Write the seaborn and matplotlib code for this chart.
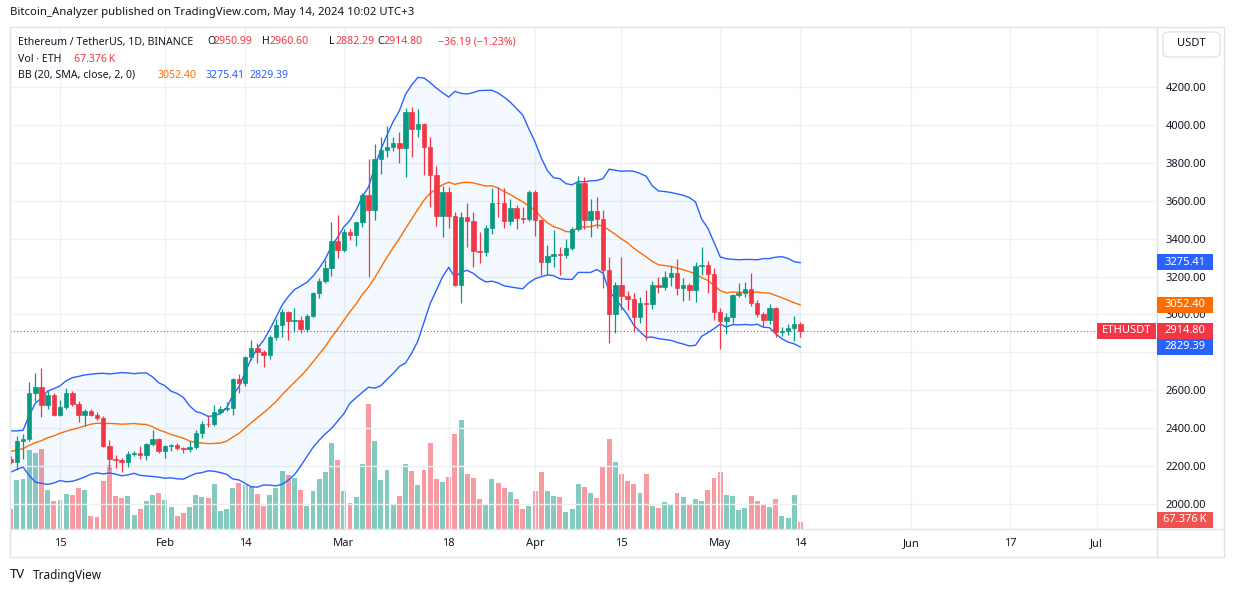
import numpy as np
import pandas as pd
import matplotlib
matplotlib.use("Agg")
import matplotlib.pyplot as plt
import matplotlib.dates as mdates
import matplotlib.transforms as mtransforms
from matplotlib.patches import Rectangle, FancyBboxPatch
from matplotlib.lines import Line2D
import seaborn as sns

# ---------------- data ----------------
dates = pd.date_range("2024-01-07", "2024-05-14", freq="D")
prior_dates = pd.date_range("2023-12-19", "2024-01-06", freq="D")
prior_closes = [2178, 2201, 2239, 2326, 2313, 2268, 2273, 2230, 2378, 2345,
                2298, 2292, 2281, 2352, 2355, 2209, 2268, 2268, 2240]

opens = [
    # Jan 7-31
    2240, 2222, 2331, 2344, 2585, 2619, 2522, 2576, 2472, 2511, 2587, 2529, 2469,
    2493, 2471, 2455, 2306, 2237, 2233, 2220, 2266, 2268, 2257, 2318, 2344,
    # Feb
    2282, 2304, 2309, 2296, 2290, 2300, 2373, 2423, 2420, 2485, 2500, 2507, 2659,
    2640, 2777, 2824, 2803, 2786, 2881, 2944, 3013, 2967, 2971, 2922, 2992, 3113,
    3178, 3243, 3385,
    # Mar
    3340, 3433, 3420, 3488, 3628, 3553, 3818, 3868, 3884, 3905, 3880, 4066, 3980,
    4005, 3882, 3738, 3521, 3645, 3517, 3155, 3516, 3492, 3333, 3329, 3456, 3588,
    3586, 3493, 3561, 3510, 3506,
    # Apr
    3646, 3500, 3275, 3308, 3320, 3316, 3349, 3450, 3696, 3500, 3546, 3502, 3234,
    3000, 3156, 3100, 3080, 2985, 3062, 3056, 3155, 3147, 3200, 3218, 3137, 3155,
    3127, 3256, 3263, 3212,
    # May 1-14
    3012, 2968, 2986, 3103, 3113, 3133, 3060, 3003, 2970, 3032, 2906, 2914, 2929, 2950.99]

highs = [
    2255, 2358, 2368, 2643, 2690, 2715, 2595, 2585, 2550, 2611, 2595, 2545, 2500,
    2500, 2485, 2465, 2337, 2258, 2245, 2282, 2282, 2306, 2320, 2390, 2350,
    2310, 2318, 2320, 2300, 2330, 2390, 2440, 2462, 2520, 2515, 2540, 2665, 2686,
    2780, 2865, 2849, 2810, 2890, 2975, 3027, 3020, 3032, 2992, 3005, 3120, 3194,
    3287, 3487, 3525,
    3450, 3450, 3490, 3640, 3822, 3899, 3935, 3994, 3935, 3965, 4088, 4094, 4083,
    4012, 3935, 3783, 3678, 3670, 3542, 3540, 3586, 3539, 3434, 3472, 3667, 3675,
    3667, 3609, 3578, 3569, 3657,
    3657, 3505, 3366, 3445, 3357, 3397, 3463, 3730, 3724, 3608, 3622, 3551, 3305,
    3173, 3305, 3124, 3115, 3094, 3129, 3178, 3196, 3231, 3256, 3291, 3190, 3168,
    3278, 3354, 3284, 3243,
    3032, 3009, 3110, 3168, 3173, 3221, 3075, 3015, 3055, 3040, 2932, 2950, 2992, 2960.60]

lows = [
    2212, 2180, 2240, 2330, 2546, 2460, 2500, 2465, 2466, 2500, 2515, 2432, 2413,
    2462, 2445, 2300, 2180, 2190, 2171, 2194, 2255, 2240, 2232, 2305, 2271,
    2243, 2278, 2285, 2270, 2275, 2292, 2350, 2405, 2410, 2475, 2490, 2470, 2587,
    2625, 2760, 2744, 2721, 2764, 2863, 2880, 2865, 2909, 2904, 2905, 2985, 3086,
    3165, 3205, 3296,
    3330, 3395, 3361, 3460, 3200, 3498, 3739, 3830, 3860, 3797, 3727, 3832, 3935,
    3736, 3569, 3469, 3410, 3455, 3150, 3059, 3357, 3252, 3270, 3310, 3423, 3516,
    3455, 3472, 3449, 3481, 3495,
    3414, 3208, 3208, 3249, 3208, 3300, 3340, 3440, 3450, 3410, 3455, 3138, 2851,
    2904, 3024, 3024, 2909, 2953, 2865, 3030, 3115, 3129, 3150, 3103, 3073, 3076,
    3068, 3208, 3115, 2971,
    2817, 2897, 2957, 3090, 3090, 3045, 2985, 2936, 2950, 2880, 2887, 2892, 2862, 2882.29]

closes = [
    2222, 2331, 2344, 2585, 2619, 2522, 2576, 2472, 2511, 2587, 2529, 2469, 2493,
    2471, 2455, 2306, 2237, 2233, 2220, 2266, 2268, 2257, 2318, 2344, 2282,
    2304, 2309, 2296, 2290, 2300, 2373, 2423, 2420, 2485, 2500, 2507, 2659, 2640,
    2777, 2824, 2803, 2786, 2881, 2944, 3013, 2967, 2971, 2922, 2992, 3113, 3178,
    3243, 3385, 3340,
    3433, 3420, 3488, 3628, 3553, 3818, 3868, 3884, 3905, 3880, 4066, 3980, 4005,
    3882, 3738, 3521, 3645, 3517, 3155, 3516, 3492, 3333, 3329, 3456, 3588, 3586,
    3493, 3561, 3510, 3506, 3646,
    3500, 3275, 3308, 3320, 3316, 3349, 3450, 3696, 3500, 3546, 3502, 3234, 3000,
    3156, 3100, 3080, 2985, 3062, 3056, 3155, 3147, 3200, 3218, 3137, 3155, 3127,
    3256, 3263, 3212, 3012,
    2968, 2986, 3103, 3113, 3133, 3060, 3003, 2970, 3032, 2906, 2914, 2929, 2951, 2914.80]

volumes_k = [
    185, 445, 452, 716, 691, 725, 356, 259, 266, 320, 311, 371, 356,
    122, 113, 437, 581, 302, 286, 302, 131, 185, 257, 311, 329,
    268, 205, 122, 149, 203, 311, 293, 284, 410, 167, 182, 374, 419,
    401, 394, 320, 212, 311, 376, 529, 491, 464, 356, 212, 347, 455,
    518, 779, 626,
    347, 239, 293, 590, 1130, 797, 446, 536, 221, 302, 590, 527, 401,
    536, 779, 455, 428, 473, 860, 986, 500, 464, 275, 221, 455, 419,
    374, 338, 275, 185, 212,
    347, 518, 347, 302, 293, 158, 185, 410, 383, 329, 284, 572, 815,
    608, 500, 437, 410, 329, 500, 212, 194, 248, 221, 329, 293, 221,
    275, 257, 356, 464,
    518, 311, 302, 176, 194, 302, 257, 230, 203, 275, 122, 104, 311, 67.376]

tick_dates = ["2024-01-15", "2024-02-01", "2024-02-14", "2024-03-01", "2024-03-18",
              "2024-04-01", "2024-04-15", "2024-05-01", "2024-05-14", "2024-06-01",
              "2024-06-17", "2024-07-01"]
tick_labels = ["15", "Feb", "14", "Mar", "18", "Apr", "15", "May", "14", "Jun", "17", "Jul"]
price_ticks = [2000, 2200, 2400, 2600, 2800, 3000, 3200, 3400, 3600, 3800, 4000, 4200]
hidden_ticks = [2800]   # covered by the price tags in the reference

header = "Bitcoin_Analyzer published on TradingView.com, May 14, 2024 10:02 UTC+3"
ohlc_text = ["2950.99", "2960.60", "2882.29", "2914.80", "\u221236.19 (\u22121.23%)"]
vol_text = "67.376\u2009K"
bb_text = ["3052.40", "3275.41", "2829.39"]
bb_vals = [3052.40, 3275.41, 2829.39]
last_close = 2914.80
last_vol = 67.376

# ---------------- style ----------------
sns.set_theme(style="white")
plt.rcParams["font.family"] = ["Noto Sans", "DejaVu Sans"]
UP, DOWN = "#089981", "#f23645"
BLUE, ORANGE = "#2962ff", "#ff6d00"
TXT = "#131722"
GRID = "#eef0f4"
BORDER = "#e0e3eb"

W, H = 1233, 592
L, R, T, B = 10, 1157, 27, 529.3
fig = plt.figure(figsize=(W / 100, H / 100), dpi=100)
fig.patch.set_facecolor("white")
rect = [L / W, 1 - B / H, (R - L) / W, (B - T) / H]
axv = fig.add_axes(rect)             # volume (behind)
ax = fig.add_axes(rect, sharex=axv)  # price (front)
ax.patch.set_visible(False)

x = mdates.date2num(dates)
o = np.array(opens); h = np.array(highs); l = np.array(lows); c = np.array(closes)
up = c >= o
cols = np.where(up, UP, DOWN)

# Bollinger bands (20, SMA, close, 2)
all_close = pd.Series(prior_closes + closes, index=prior_dates.append(dates), dtype=float)
basis = all_close.rolling(20).mean()
dev = all_close.rolling(20).std(ddof=0)
bb = pd.DataFrame({"date": dates,
                   "basis": basis.loc[dates].values,
                   "upper": (basis + 2 * dev).loc[dates].values,
                   "lower": (basis - 2 * dev).loc[dates].values})

ax.fill_between(x, bb["lower"], bb["upper"], color="#2196f3", alpha=0.05, lw=0, zorder=1)
sns.lineplot(x=x, y=bb["upper"].values, ax=ax, color=BLUE, lw=1.0, zorder=2)
sns.lineplot(x=x, y=bb["lower"].values, ax=ax, color=BLUE, lw=1.0, zorder=2)
sns.lineplot(x=x, y=bb["basis"].values, ax=ax, color=ORANGE, lw=1.0, zorder=2)

# candles
ax.vlines(x, l, h, colors=cols, lw=0.9, zorder=3)
ax.bar(x, c - o, bottom=o, width=0.72, color=cols, edgecolor=cols, lw=0.5, zorder=4)

# volume
axv.bar(x, volumes_k, width=0.8, color=cols, alpha=0.5, lw=0)

ax.axhline(last_close, color=DOWN, ls=(0, (1, 2)), lw=0.8, zorder=5)

# limits
px_day = 6.17
x15 = mdates.date2num(pd.Timestamp("2024-01-15"))
ax.set_xlim(x15 - (60 - L) / px_day, x15 + (R - 60) / px_day)
ppx = 2200 / 417.0
ax.set_ylim(4200 - (B - 87) * ppx, 4200 + (87 - T) * ppx)
axv.set_ylim(0, 9.0 * (B - T))

# ticks / grid
ax.set_xticks(mdates.date2num(pd.to_datetime(tick_dates)))
ax.set_xticklabels(tick_labels)
ax.set_yticks(price_ticks)
ax.set_yticklabels(["" if v in hidden_ticks else f"{v:.2f}" for v in price_ticks])
ax.yaxis.tick_right()
ax.tick_params(axis="x", length=0, pad=6, labelsize=8, colors=TXT)
ax.tick_params(axis="y", length=0, pad=6, labelsize=8, colors=TXT)
ax.grid(True, color=GRID, lw=1)
ax.set_axisbelow(True)
axv.set_yticks([]); axv.tick_params(axis="x", length=0, labelbottom=False)
axv.grid(False)
for a in (ax, axv):
    for s in a.spines.values():
        s.set_visible(False)
ax.set_xlabel(""); ax.set_ylabel("")

# frame lines
def fline(x0, y0, x1, y1):
    fig.add_artist(Line2D([x0 / W, x1 / W], [1 - y0 / H, 1 - y1 / H], color=BORDER, lw=1))
fline(L, T, 1224, T); fline(L, 557, 1224, 557); fline(L, T, L, 557); fline(1224, T, 1224, 557)
fline(R, T, R, 557); fline(L, B, 1224, B)

# price tags
tp = mtransforms.blended_transform_factory(fig.transFigure, ax.transData)
tv = mtransforms.blended_transform_factory(fig.transFigure, axv.transData)
def tag(trans, val, text, color, x0, x1, hdata, tcolor="white"):
    fig.add_artist(Rectangle((x0 / W, val - hdata / 2), (x1 - x0) / W, hdata,
                             transform=trans, fc=color, ec="none", zorder=5))
    fig.add_artist(plt.Text((x0 + x1) / 2 / W, val, text, transform=trans, ha="center",
                            va="center", color=tcolor, fontsize=8, zorder=6))
hp = 16 * ppx
tag(tp, bb_vals[1], bb_text[1], BLUE, R, 1213, hp)
tag(tp, bb_vals[0], bb_text[0], ORANGE, R, 1213, hp)
tag(tp, last_close, ohlc_text[3], DOWN, R, 1213, hp)
tag(tp, bb_vals[2], bb_text[2], BLUE, R, 1213, hp)
tag(tp, last_close, "ETHUSDT", DOWN, 1097, 1156, hp)
tag(tv, last_vol + 2 * 9, vol_text, "#ef5350", R, 1213, 16 * 9)

# USDT button
fig.add_artist(FancyBboxPatch((1163 / W, 1 - 57 / H), 57 / W, 25 / H,
                              boxstyle="round,pad=0,rounding_size=0.006",
                              transform=fig.transFigure, fc="white", ec=BORDER, lw=1))
fig.text(1191 / W, 1 - 44 / H, "USDT", ha="center", va="center", fontsize=8, color=TXT)

# header / legend texts
def ftxt(px, py, s, color=TXT, size=7.6, weight="normal"):
    fig.text(px / W, 1 - py / H, s, ha="left", va="center", fontsize=size, color=color,
             fontweight=weight)
ftxt(10, 12, header, size=8.2)
ftxt(18, 42, "Ethereum / TetherUS, 1D, BINANCE")
ftxt(207, 42, "O"); ftxt(214, 42, ohlc_text[0], DOWN)
ftxt(262, 42, "H"); ftxt(269, 42, ohlc_text[1], DOWN)
ftxt(329, 42, "L"); ftxt(335, 42, ohlc_text[2], DOWN)
ftxt(377, 42, "C"); ftxt(384, 42, ohlc_text[3], DOWN)
ftxt(438, 42, ohlc_text[4], DOWN)
ftxt(18, 59, "Vol \u00b7 ETH"); ftxt(74, 59, vol_text, DOWN)
ftxt(18, 75, "BB (20, SMA, close, 2, 0)")
ftxt(157, 75, bb_text[0], ORANGE); ftxt(205, 75, bb_text[1], BLUE); ftxt(249, 75, bb_text[2], BLUE)

# footer logo
ftxt(10, 575, "TV", size=9.5, weight="bold")
ftxt(33, 575, "TradingView", size=8.5)

fig.savefig("out.png", dpi=100, facecolor="white")
